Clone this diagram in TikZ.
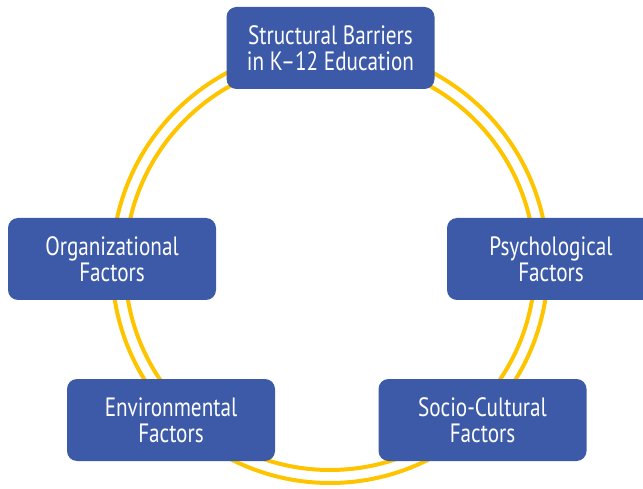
\documentclass[tikz,border=0pt]{standalone}
\usepackage{fontspec}
\setmainfont{PT Sans}[FakeStretch=0.8]
\definecolor{BoxBlue}{RGB}{60,90,167}
\definecolor{RingGold}{RGB}{255,196,0}

\begin{document}
\begin{tikzpicture}[x=1pt, y=-1pt,
    factor/.style={fill=BoxBlue, rounded corners=10pt, minimum width=208pt,
        minimum height=82pt, inner sep=0pt, text=white, align=center,
        font=\fontsize{26.5}{26}\selectfont},
    ring/.style={RingGold, line width=4pt}]
    \useasboundingbox (0,0) rectangle (643,489);

    % Draw the double ring
    \coordinate (hub) at (330,265);
    \draw[ring] (hub) circle[radius=205];
    \draw[ring] (hub) circle[radius=218];

    % Add the boxes for the barriers
    \node[factor] (struct) at (330.5,48) {Structural Barriers\\in K--12 Education};
    \node[factor] (org) at (112,259) {Organizational\\Factors};
    \node[factor] (psych) at (551,259) {Psychological\\Factors};
    \node[factor] (env) at (171,420) {Environmental\\Factors};
    \node[factor] (socio) at (482.5,420) {Socio-Cultural\\Factors};
\end{tikzpicture}
\end{document}
